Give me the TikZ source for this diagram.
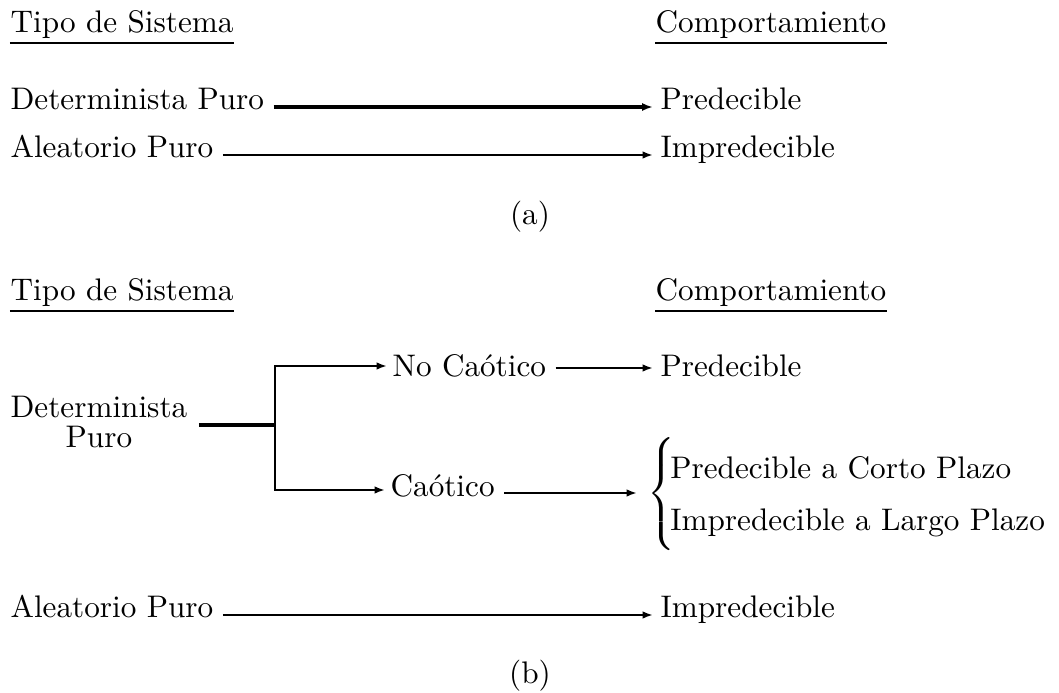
\documentclass[tikz,border=0pt]{standalone}
\usepackage{fontspec}
\usetikzlibrary{arrows.meta,calc}
\begin{document}
\begin{tikzpicture}[x=0.3205pt,y=-0.3205pt,
  txt/.style={inner sep=0pt, anchor=base west},
  uline/.style={line width=0.7pt},
  arr/.style={line width=0.8pt, -{Latex[length=3.3pt,width=2.4pt]}},
  thickarr/.style={line width=1.2pt, -{Latex[length=3.5pt,width=2.6pt]}},
  stub/.style={line width=1.2pt}]
\useasboundingbox (0,0) rectangle (1059,693);
% ---- (a) ----
\node[txt] (h1) at (10,33) {Tipo de Sistema};
\node[txt] (c1) at (655,33) {Comportamiento};
\draw[uline] ($(h1.base west)+(0,10)$) -- ($(h1.base east)+(0,10)$);
\draw[uline] ($(c1.base west)+(0,10)$) -- ($(c1.base east)+(0,10)$);
\node[txt] (dp) at (10,110) {Determinista Puro};
\node[txt] (p1) at (660,110) {Predecible};
\node[txt] (ap) at (10,158) {Aleatorio Puro};
\node[txt] (i1) at (660,158) {Impredecible};
\node[inner sep=0pt, anchor=base] (la) at (530,225) {(a)};
\draw[thickarr] ($(dp.base east)+(9,-3)$) -- ($(p1.base west)+(-7,-3)$);
\draw[arr] ($(ap.base east)+(9,-3)$) -- ($(i1.base west)+(-7,-3)$);
% ---- (b) ----
\node[txt] (h2) at (10,301) {Tipo de Sistema};
\node[txt] (c2) at (655,301) {Comportamiento};
\draw[uline] ($(h2.base west)+(0,10)$) -- ($(h2.base east)+(0,10)$);
\draw[uline] ($(c2.base west)+(0,10)$) -- ($(c2.base east)+(0,10)$);
\node[inner sep=0pt, anchor=west, align=center, font=\fontsize{10pt}{9.6pt}\selectfont] (det) at (10,422) {Determinista\\Puro};
\coordinate (j) at (275,425);
\coordinate (s) at (det.east |- j);
\draw[stub] ($(s)+(11,0)$) -- (j);
\node[txt] (nc) at (392,377) {No Caótico};
\node[txt] (p2) at (660,377) {Predecible};
\node[txt] (ca) at (390,497) {Caótico};
\node[inner sep=0pt, anchor=west] (cs) at (647,494) {$\left\{\renewcommand\arraystretch{1.4}\begin{array}{@{\hspace{-1.6pt}}l@{}}\mbox{Predecible a Corto Plazo}\\ \mbox{Impredecible a Largo Plazo}\end{array}\right.$};
\draw[arr] (j) |- ($(nc.base west)+(-5,-11)$);
\draw[arr] (j) |- ($(ca.base west)+(-5,-7)$);
\draw[arr] ($(nc.base east)+(9,-9)$) -- ($(p2.base west)+(-7,-9)$);
\draw[arr] ($(ca.base east)+(9,-4)$) -- ($(cs.west)+(-10,-1)$);
\node[txt] (ap2) at (10,618) {Aleatorio Puro};
\node[txt] (i2) at (660,618) {Impredecible};
\draw[arr] ($(ap2.base east)+(9,-3)$) -- ($(i2.base west)+(-7,-3)$);
\node[inner sep=0pt, anchor=base] (lb) at (530,684) {(b)};
\end{tikzpicture}
\end{document}
